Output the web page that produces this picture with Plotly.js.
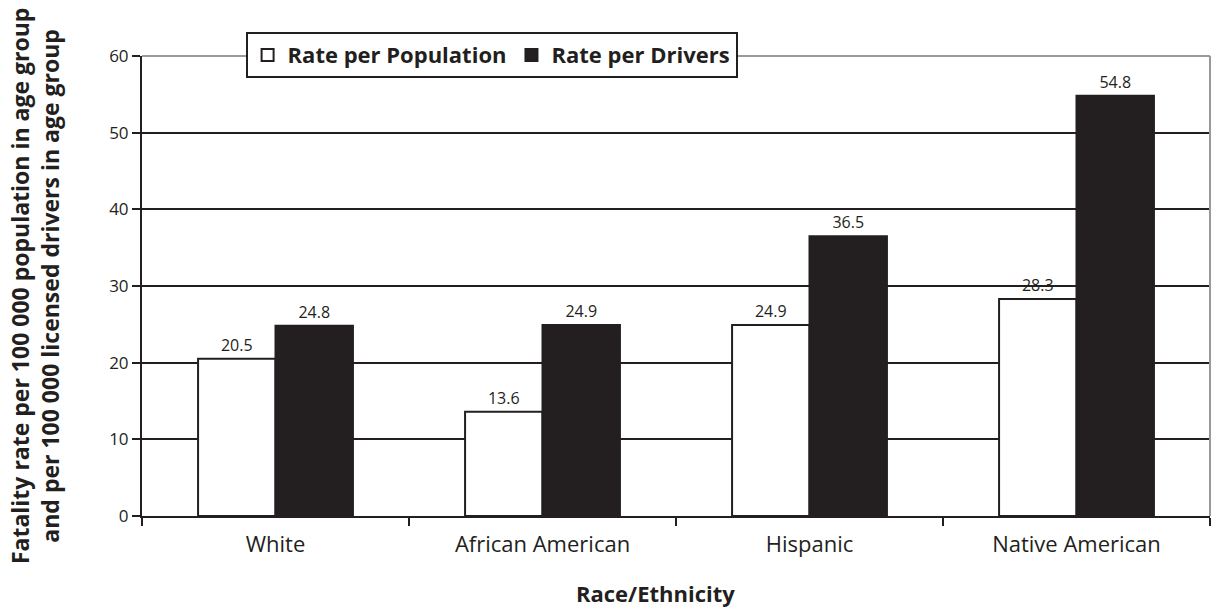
<!DOCTYPE html>
<html><head><meta charset="utf-8">
<script src="https://cdn.plot.ly/plotly-3.0.1.min.js"></script>
<style>html,body{margin:0;padding:0;background:#fff}</style>
</head><body>
<div id="chart" style="width:1213px;height:616px"></div>
<script>
const categories = ["White", "African American", "Hispanic", "Native American"];
const ratePerPopulation = [20.5, 13.6, 24.9, 28.3];
const ratePerDrivers = [24.8, 24.9, 36.5, 54.8];
const yTicks = [0, 10, 20, 30, 40, 50, 60];

const fontFam = "Open Sans, sans-serif";
const ink = "#231f20";
const traces = [
  {type: "bar", name: "Rate per Population", x: categories, y: ratePerPopulation,
   marker: {color: "#ffffff", line: {color: ink, width: 2}},
   text: ratePerPopulation.map(v => v.toFixed(1)), textposition: "outside",
   textfont: {family: fontFam, size: 16, color: ink}, cliponaxis: false},
  {type: "bar", name: "Rate per Drivers", x: categories, y: ratePerDrivers,
   marker: {color: ink, line: {color: ink, width: 2}},
   text: ratePerDrivers.map(v => v.toFixed(1)), textposition: "outside",
   textfont: {family: fontFam, size: 16, color: ink}, cliponaxis: false}
];
const layout = {
  width: 1213, height: 616,
  margin: {l: 142, r: 3, t: 56, b: 100},
  paper_bgcolor: "#fff", plot_bgcolor: "#fff",
  barmode: "group", bargap: 0.42, bargroupgap: 0,
  font: {family: fontFam, color: ink},
  showlegend: true,
  legend: {orientation: "h", x: 0.097, xanchor: "left", y: 1.052, yanchor: "top",
    bordercolor: ink, borderwidth: 2, bgcolor: "#fff",
    font: {family: fontFam, size: 22, color: ink, weight: "bold"},
    itemwidth: 30, tracegroupgap: 0},
  xaxis: {type: "category", showline: true, linecolor: ink, linewidth: 2,
    ticks: "outside", tickson: "boundaries", ticklen: 8, tickwidth: 2, tickcolor: ink,
    ticklabelstandoff: 8,
    tickfont: {family: fontFam, size: 22, color: ink}, showgrid: false, zeroline: false},
  yaxis: {range: [0, 60], tickvals: yTicks, ticktext: yTicks.map(String),
    showline: true, linecolor: ink, linewidth: 2,
    ticks: "outside", ticklen: 8, tickwidth: 2, tickcolor: ink,
    tickfont: {family: fontFam, size: 17, color: ink},
    showgrid: true, gridcolor: ink, gridwidth: 2, zeroline: false},
  shapes: [
    {type: "line", xref: "paper", yref: "paper", x0: 0, x1: 1, y0: 1, y1: 1,
     line: {color: "#999999", width: 2}, layer: "above"},
    {type: "line", xref: "paper", yref: "paper", x0: 1, x1: 1, y0: 0, y1: 1,
     line: {color: "#999999", width: 2}, layer: "above"}
  ],
  annotations: [
    {text: "<b>Fatality rate per 100 000 population in age group</b><br><b>and per 100 000 licensed drivers in age group</b>",
     xref: "paper", yref: "paper", x: -0.131, y: 0.5, xanchor: "left", yanchor: "middle",
     textangle: -90, showarrow: false, font: {family: fontFam, size: 23, color: ink}},
    {text: "<b>Race/Ethnicity</b>", xref: "paper", yref: "paper", x: 0.481, y: -0.167,
     xanchor: "center", yanchor: "middle", showarrow: false,
     font: {family: fontFam, size: 22, color: ink}}
  ]
};
Plotly.newPlot("chart", traces, layout, {displayModeBar: false});
</script>
</body></html>
